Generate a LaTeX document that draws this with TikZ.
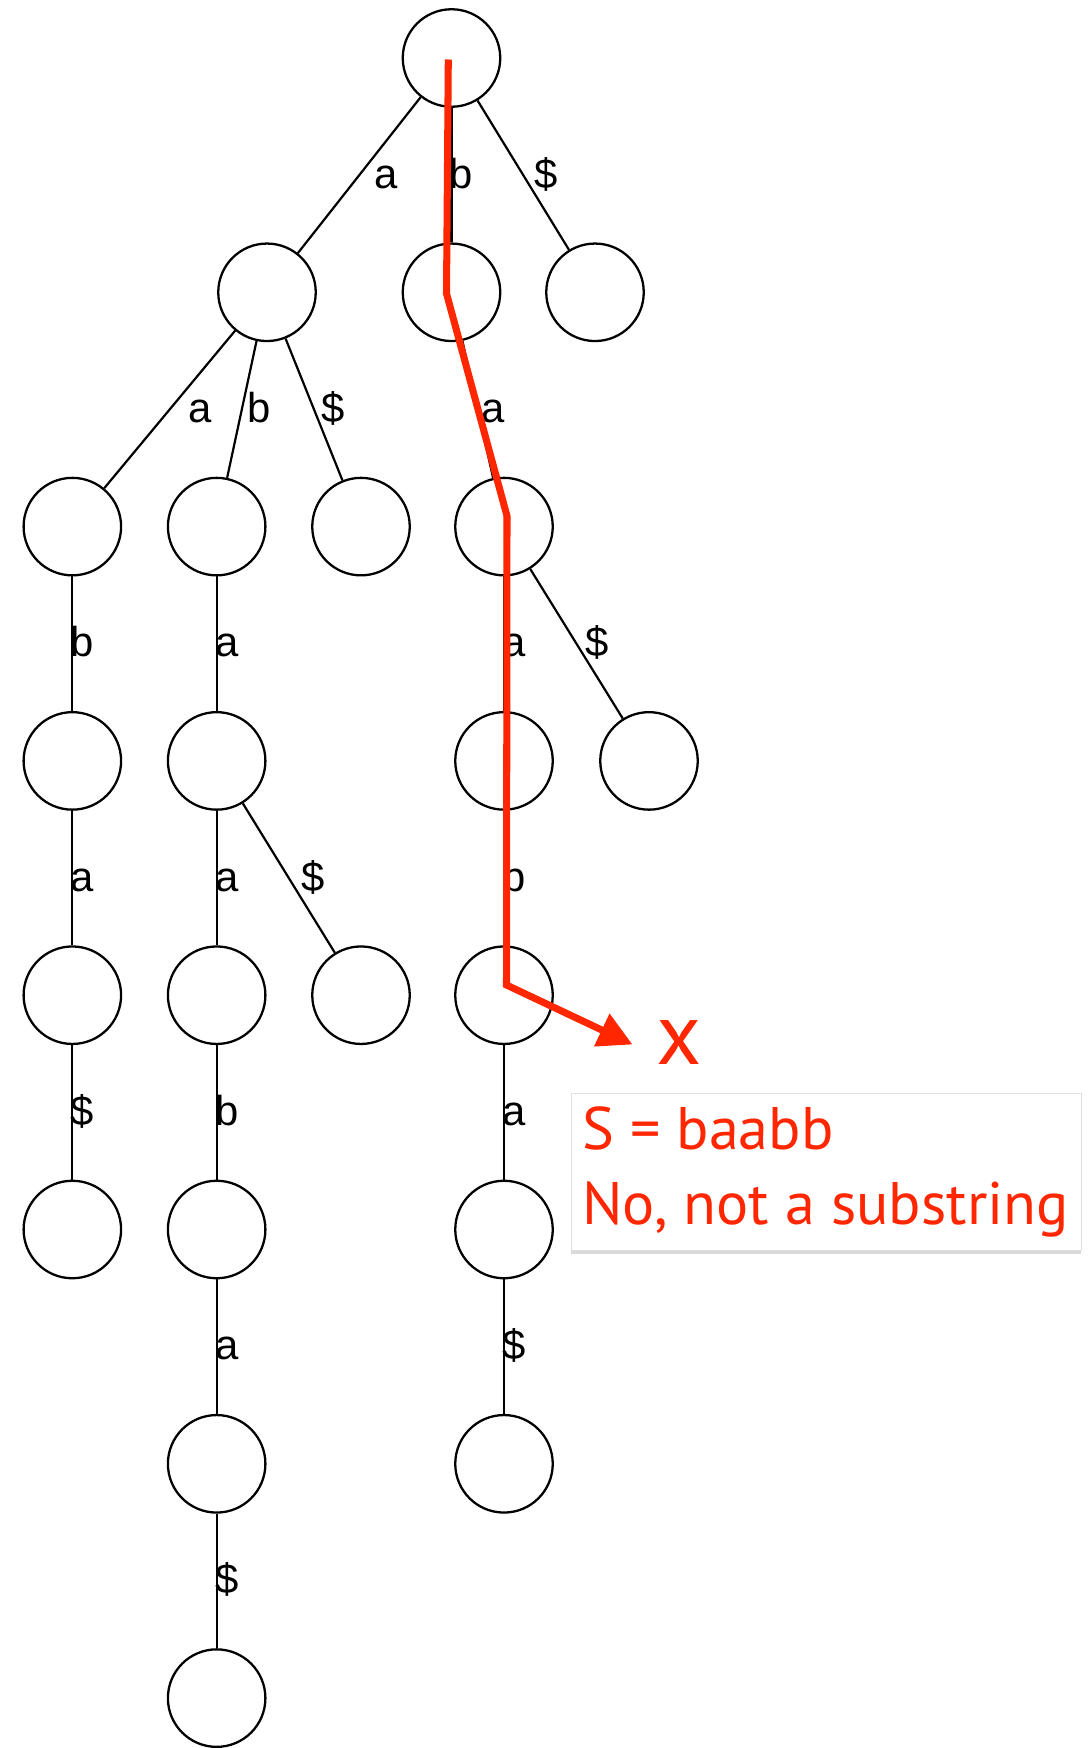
\documentclass[tikz,border=0pt]{standalone}
\usepackage{fontspec}
\setmainfont{Liberation Sans}
\newfontfamily\notefont{PT Sans}
\usetikzlibrary{arrows.meta,shadows}
\pgfdeclarelayer{edgelayer}
\pgfdeclarelayer{nodelayer}
\pgfsetlayers{edgelayer,nodelayer,main}
\definecolor{trace}{RGB}{255,38,0}
\tikzset{font=\fontsize{23.8}{28}\selectfont}
\tikzstyle{vertex}=[circle,draw,line width=1.3pt,minimum size=1.95cm,inner sep=0pt]
\tikzstyle{edge}=[line width=1.25pt]
\tikzstyle{lbl}=[midway,anchor=base,inner sep=0pt,yshift=-0.26cm]
\tikzstyle{trail}=[draw=trace,line width=4pt,-{Triangle[length=0.68cm,width=0.69cm]}]
\tikzstyle{note}=[text=trace,inner sep=0pt,font=\notefont\fontsize{34.2}{40}\selectfont]

\begin{document}
\begin{tikzpicture}
	\useasboundingbox (0,0) rectangle (21.76,-34.96);
	\begin{pgfonlayer}{nodelayer}
		\node [style=vertex] (0) at (9.03, -1.16) {};
		\node [style=vertex] (1) at (5.34, -5.846) {};
		\node [style=vertex] (2) at (9.03, -5.846) {};
		\node [style=vertex] (3) at (11.9, -5.846) {};
		\node [style=vertex] (4) at (1.447, -10.532) {};
		\node [style=vertex] (5) at (4.333, -10.532) {};
		\node [style=vertex] (6) at (7.22, -10.532) {};
		\node [style=vertex] (7) at (10.08, -10.532) {};
		\node [style=vertex] (8) at (1.447, -15.218) {};
		\node [style=vertex] (9) at (4.333, -15.218) {};
		\node [style=vertex] (10) at (10.08, -15.218) {};
		\node [style=vertex] (11) at (12.98, -15.218) {};
		\node [style=vertex] (12) at (1.447, -19.904) {};
		\node [style=vertex] (13) at (4.333, -19.904) {};
		\node [style=vertex] (14) at (7.22, -19.904) {};
		\node [style=vertex] (15) at (10.08, -19.904) {};
		\node [style=vertex] (16) at (1.447, -24.59) {};
		\node [style=vertex] (17) at (4.333, -24.59) {};
		\node [style=vertex] (18) at (10.08, -24.59) {};
		\node [style=vertex] (19) at (4.333, -29.276) {};
		\node [style=vertex] (20) at (10.08, -29.276) {};
		\node [style=vertex] (21) at (4.333, -33.962) {};
	\end{pgfonlayer}
	\begin{pgfonlayer}{edgelayer}
		\draw[style=edge] (0) to node[lbl,xshift=0.535cm] {a} (1);
		\draw[style=edge] (0) to node[lbl,xshift=0.2cm] {b} (2);
		\draw[style=edge] (0) to node[lbl,xshift=0.46cm] {\$} (3);
		\draw[style=edge] (1) to node[lbl,xshift=0.6cm] {a} (4);
		\draw[style=edge] (1) to node[lbl,xshift=0.35cm] {b} (5);
		\draw[style=edge] (1) to node[lbl,xshift=0.38cm] {\$} (6);
		\draw[style=edge] (2) to node[lbl,xshift=0.3cm] {a} (7);
		\draw[style=edge] (4) to node[lbl,xshift=0.2cm] {b} (8);
		\draw[style=edge] (5) to node[lbl,xshift=0.2cm] {a} (9);
		\draw[style=edge] (7) to node[lbl,xshift=0.2cm] {a} (10);
		\draw[style=edge] (7) to node[lbl,xshift=0.42cm] {\$} (11);
		\draw[style=edge] (8) to node[lbl,xshift=0.2cm] {a} (12);
		\draw[style=edge] (9) to node[lbl,xshift=0.2cm] {a} (13);
		\draw[style=edge] (9) to node[lbl,xshift=0.48cm] {\$} (14);
		\draw[style=edge] (10) to node[lbl,xshift=0.2cm] {b} (15);
		\draw[style=edge] (12) to node[lbl,xshift=0.2cm] {\$} (16);
		\draw[style=edge] (13) to node[lbl,xshift=0.2cm] {b} (17);
		\draw[style=edge] (15) to node[lbl,xshift=0.2cm] {a} (18);
		\draw[style=edge] (17) to node[lbl,xshift=0.2cm] {a} (19);
		\draw[style=edge] (18) to node[lbl,xshift=0.2cm] {\$} (20);
		\draw[style=edge] (19) to node[lbl,xshift=0.2cm] {\$} (21);
	\end{pgfonlayer}
	% search path for baabb, dropping off below node 15
	\coordinate (p0) at (8.966, -1.19);
	\coordinate (p1) at (8.93, -5.87);
	\coordinate (p2) at (10.14, -10.32);
	\coordinate (p3) at (10.13, -19.7);
	\coordinate (p4) at (12.65, -20.89);
	\draw[style=trail] (p0) -- (p1) -- (p2) -- (p3) -- (p4);
	\node [style=note,font=\notefont\fontsize{50}{60}\selectfont] (x) at (13.58, -20.86) {x};
	\node [draw=black!12,fill=white,line width=0.4pt,minimum width=10.2cm,minimum height=3.14cm,
		drop shadow={shadow xshift=0pt,shadow yshift=-2pt,opacity=0.3}] (box) at (16.52, -23.43) {};
	\node [style=note,anchor=base west] (t1) at (11.64, -22.99) {S = baabb};
	\node [style=note,anchor=base west] (t2) at (11.64, -24.48) {No, not a substring};
\end{tikzpicture}
\end{document}
